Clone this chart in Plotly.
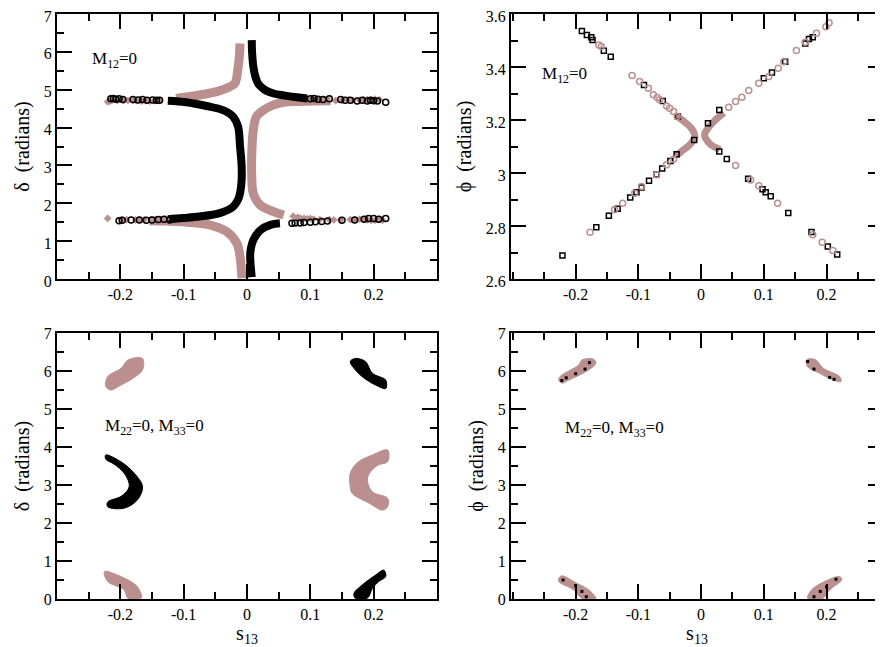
import plotly.graph_objects as go

PINK = "#bc8f8f"
FONT = "Liberation Serif, Times New Roman, serif"

# ---------------- Top-left: M12=0, delta vs s13 ----------------
tl_black_curve_s = [0.0075, 0.008, 0.010, 0.014, 0.018, 0.024, 0.031, 0.042, 0.058, 0.079, 0.095, None,
                    -0.125, -0.096, -0.064, -0.038, -0.022, -0.014, -0.011, -0.0085, -0.0085, -0.011, -0.014, -0.022, -0.043, -0.075, -0.101, -0.125, None,
                    0.0075, 0.005, 0.006, 0.010, 0.021, 0.037, 0.052]
tl_black_curve_d = [6.31, 6.0, 5.61, 5.3, 5.15, 5.05, 4.97, 4.90, 4.85, 4.80, 4.77, None,
                    4.71, 4.67, 4.57, 4.46, 4.29, 4.02, 3.50, 3.0, 2.6, 2.26, 2.1, 1.91, 1.74, 1.65, 1.61, 1.58, None,
                    0.05, 0.59, 0.8, 1.03, 1.29, 1.43, 1.47]
tl_black_pts_s = [-0.215, -0.211, -0.207, -0.202, -0.196, -0.180, -0.172, -0.165, -0.158, -0.149, -0.143, -0.138,
                  0.100, 0.106, 0.112, 0.120, 0.130, 0.148, 0.155, 0.163, 0.174, 0.182, 0.190, 0.195, 0.200, 0.206, 0.219,
                  -0.202, -0.197, -0.183, -0.170, -0.159, -0.150, -0.140, -0.131, -0.122, -0.115,
                  0.071, 0.076, 0.084, 0.090, 0.100, 0.108, 0.118, 0.127, 0.150, 0.170, 0.185, 0.192, 0.200, 0.208, 0.219]
tl_black_pts_d = [4.76, 4.77, 4.75, 4.76, 4.74, 4.74, 4.73, 4.74, 4.72, 4.73, 4.72, 4.72,
                  4.76, 4.77, 4.75, 4.74, 4.76, 4.74, 4.72, 4.72, 4.70, 4.72, 4.70, 4.72, 4.71, 4.70, 4.67,
                  1.54, 1.55, 1.56, 1.56, 1.55, 1.56, 1.57, 1.58, 1.56, 1.59,
                  1.47, 1.48, 1.48, 1.49, 1.50, 1.51, 1.52, 1.53, 1.55, 1.56, 1.58, 1.60, 1.60, 1.58, 1.60]
tl_pink_curve_s = [-0.011, -0.012, -0.014, -0.019, -0.027, -0.048, -0.075, -0.090, -0.112, None,
                   0.132, 0.105, 0.084, 0.063, 0.042, 0.026, 0.015, 0.010, 0.0075, 0.0075, 0.010, 0.021, 0.042, 0.058, None,
                   -0.154, -0.128, -0.101, -0.059, -0.032, -0.016, -0.011, -0.008]
tl_pink_curve_d = [6.22, 5.9, 5.61, 5.17, 5.08, 4.95, 4.86, 4.82, 4.77, None,
                   4.71, 4.70, 4.69, 4.68, 4.60, 4.46, 4.29, 3.94, 3.3, 2.7, 2.26, 1.95, 1.78, 1.69, None,
                   1.54, 1.53, 1.51, 1.43, 1.25, 0.94, 0.59, 0.02]
tl_pink_pts_s = [-0.220, -0.216, -0.213, -0.205, -0.195, -0.188, -0.180, -0.175, -0.166, -0.160, -0.154, -0.146, -0.138,
                 -0.220, -0.198, -0.190, -0.176, -0.170, -0.162, -0.150, -0.144, -0.136, -0.128,
                 0.073, 0.080, 0.084, 0.090, 0.095, 0.100, 0.105, 0.115, 0.130, 0.137, 0.148, 0.163, 0.170, 0.178, 0.184, 0.190, 0.196, 0.202, 0.208, 0.214,
                 0.140, 0.150, 0.160, 0.167, 0.178, 0.184, 0.190, 0.196, 0.202, 0.209]
tl_pink_pts_d = [4.68, 4.70, 4.72, 4.71, 4.71, 4.72, 4.72, 4.71, 4.70, 4.71, 4.70, 4.71, 4.71,
                 1.60, 1.57, 1.57, 1.56, 1.56, 1.57, 1.55, 1.56, 1.57, 1.58,
                 1.66, 1.63, 1.61, 1.60, 1.59, 1.60, 1.58, 1.57, 1.57, 1.56, 1.56, 1.57, 1.56, 1.58, 1.57, 1.56, 1.55, 1.55, 1.57, 1.55,
                 4.71, 4.72, 4.73, 4.72, 4.72, 4.74, 4.74, 4.73, 4.75, 4.74]

# ---------------- Top-right: M12=0, phi vs s13 ----------------
tr_black_s = [-0.221, -0.190, -0.182, -0.175, -0.173, -0.155, -0.144, -0.091, -0.061, -0.037, -0.011,
              -0.167, -0.147, -0.133, -0.113, -0.103, -0.095, -0.083, -0.071, -0.062, -0.049, -0.039,
              0.011, 0.029, 0.100, 0.113, 0.134, 0.166, 0.172, 0.178,
              0.029, 0.041, 0.075, 0.098, 0.103, 0.111, 0.139, 0.176, 0.202, 0.217]
tr_black_p = [2.689, 3.536, 3.521, 3.512, 3.502, 3.461, 3.439, 3.332, 3.272, 3.213, 3.125,
              2.795, 2.839, 2.865, 2.908, 2.927, 2.945, 2.971, 2.994, 3.017, 3.045, 3.071,
              3.188, 3.238, 3.358, 3.379, 3.420, 3.489, 3.506, 3.512,
              3.081, 3.053, 2.978, 2.939, 2.927, 2.912, 2.849, 2.777, 2.723, 2.692]
tr_pink_s = [-0.163, -0.159, -0.110, -0.098, -0.084, -0.076, -0.070, -0.066, -0.055, -0.050, -0.044, -0.038,
             -0.177, -0.138, -0.125, -0.106, -0.095, -0.071, -0.055, -0.044,
             0.204, 0.199, 0.184, 0.166, 0.152, 0.132, 0.123, 0.108, 0.092, 0.076, 0.065, 0.055, 0.044,
             0.055, 0.079, 0.092, 0.122, 0.178, 0.193, 0.210]
tr_pink_p = [3.483, 3.477, 3.368, 3.345, 3.320, 3.295, 3.285, 3.276, 3.253, 3.244, 3.232, 3.213,
             2.776, 2.861, 2.886, 2.924, 2.949, 2.993, 3.031, 3.052,
             3.567, 3.552, 3.527, 3.493, 3.462, 3.420, 3.395, 3.364, 3.339, 3.311, 3.286, 3.270, 3.248,
             3.028, 2.974, 2.952, 2.886, 2.767, 2.739, 2.708]
tr_pink_band_s = [-0.040, -0.033, -0.028, -0.024, -0.020, -0.016, -0.013, -0.011, -0.010, -0.010, -0.012, -0.015, -0.019, -0.023, -0.028, -0.033, -0.040, None,
                  0.036, 0.030, 0.025, 0.020, 0.016, 0.012, 0.009, 0.006, 0.006, 0.009, 0.012, 0.016, 0.020, 0.025, 0.030]
tr_pink_band_p = [3.218, 3.205, 3.196, 3.188, 3.180, 3.170, 3.160, 3.150, 3.142, 3.134, 3.125, 3.115, 3.105, 3.096, 3.088, 3.078, 3.064, None,
                  3.228, 3.215, 3.205, 3.193, 3.183, 3.172, 3.162, 3.150, 3.136, 3.125, 3.115, 3.106, 3.100, 3.094, 3.088]

# ---------------- Bottom-left: M22=0, M33=0, delta vs s13 (region outlines) ----------------
bl_pink_s = [-0.223, -0.220, -0.199, -0.188, -0.165, -0.165, -0.180, -0.199, -0.215, -0.223, None,
             -0.225, -0.199, -0.173, -0.167, -0.188, -0.194, -0.220, -0.225, None,
             0.222, 0.198, 0.175, 0.163, 0.163, 0.166, 0.193, 0.214, 0.222, 0.222, 0.198, 0.190, 0.195, 0.208, 0.222, 0.222]
bl_pink_d = [5.59, 5.85, 6.07, 6.29, 6.33, 6.03, 5.81, 5.63, 5.50, 5.59, None,
             0.72, 0.59, 0.32, 0.02, 0.02, 0.24, 0.46, 0.72, None,
             3.92, 3.79, 3.60, 3.31, 2.96, 2.78, 2.52, 2.34, 2.43, 2.65, 2.82, 3.13, 3.35, 3.53, 3.61, 3.92]
bl_black_s = [0.163, 0.171, 0.187, 0.198, 0.219, 0.219, 0.203, 0.182, 0.169, 0.163, None,
              -0.223, -0.199, -0.178, -0.165, -0.173, -0.194, -0.220, -0.220, -0.198, -0.186, -0.193, -0.210, -0.223, -0.223, None,
              0.171, 0.169, 0.182, 0.203, 0.216, 0.219, 0.208, 0.198, 0.190, 0.171]
bl_black_d = [6.25, 6.33, 6.25, 5.94, 5.76, 5.54, 5.63, 5.85, 6.07, 6.25, None,
              3.79, 3.61, 3.31, 2.96, 2.61, 2.39, 2.43, 2.55, 2.71, 2.96, 3.29, 3.55, 3.68, 3.79, None,
              0.02, 0.15, 0.37, 0.63, 0.76, 0.59, 0.46, 0.28, 0.02, 0.02]

# ---------------- Bottom-right: M22=0, M33=0, phi vs s13 ----------------
br_pink_s = [-0.227, -0.225, -0.195, -0.190, -0.171, -0.168, -0.184, -0.211, -0.222, -0.227, None,
             -0.227, -0.222, -0.198, -0.179, -0.168, -0.190, -0.203, -0.227, -0.227, None,
             0.168, 0.181, 0.195, 0.221, 0.223, 0.208, 0.189, 0.170, 0.168, None,
             0.170, 0.176, 0.197, 0.221, 0.224, 0.211, 0.200, 0.195, 0.170]
br_pink_p = [5.76, 5.85, 6.16, 6.29, 6.31, 6.20, 5.98, 5.76, 5.68, 5.76, None,
             0.54, 0.61, 0.41, 0.24, 0.02, 0.02, 0.24, 0.46, 0.54, None,
             6.29, 6.31, 6.07, 5.85, 5.72, 5.78, 5.94, 6.11, 6.29, None,
             0.02, 0.24, 0.46, 0.59, 0.50, 0.32, 0.15, 0.02, 0.02]
br_black_s = [-0.222, -0.215, -0.200, -0.185, -0.178, 0.170, 0.180, 0.205, 0.212,
              -0.220, -0.200, -0.190, -0.183, 0.180, 0.190, 0.200, 0.215]
br_black_p = [5.75, 5.82, 5.93, 6.05, 6.22, 6.25, 6.05, 5.83, 5.78,
              0.50, 0.35, 0.20, 0.06, 0.06, 0.20, 0.32, 0.52]

x_ticks = [-0.2, -0.1, 0, 0.1, 0.2]
x_ticktext = ["-0.2", "-0.1", "0", "0.1", "0.2"]

fig = go.Figure()

# top-left
fig.add_trace(go.Scatter(x=tl_pink_curve_s, y=tl_pink_curve_d, mode="lines", line=dict(color=PINK, width=9, shape="spline"),
                         xaxis="x", yaxis="y", showlegend=False))
fig.add_trace(go.Scatter(x=tl_black_curve_s, y=tl_black_curve_d, mode="lines", line=dict(color="black", width=8, shape="spline"),
                         xaxis="x", yaxis="y", showlegend=False))
fig.add_trace(go.Scatter(x=tl_pink_pts_s, y=tl_pink_pts_d, mode="markers", marker=dict(symbol="diamond", size=6, color=PINK),
                         xaxis="x", yaxis="y", showlegend=False))
fig.add_trace(go.Scatter(x=tl_black_pts_s, y=tl_black_pts_d, mode="markers",
                         marker=dict(symbol="circle-open", size=6, color="black", line=dict(width=1.5)),
                         xaxis="x", yaxis="y", showlegend=False))
# top-right
fig.add_trace(go.Scatter(x=tr_pink_band_s, y=tr_pink_band_p, mode="lines", line=dict(color=PINK, width=7, shape="spline"),
                         xaxis="x2", yaxis="y2", showlegend=False))
fig.add_trace(go.Scatter(x=tr_black_s, y=tr_black_p, mode="markers",
                         marker=dict(symbol="square-open", size=5, color="black", line=dict(width=1.5)),
                         xaxis="x2", yaxis="y2", showlegend=False))
fig.add_trace(go.Scatter(x=tr_pink_s, y=tr_pink_p, mode="markers",
                         marker=dict(symbol="circle-open", size=6, color=PINK, line=dict(width=1.5)),
                         xaxis="x2", yaxis="y2", showlegend=False))
# bottom-left
fig.add_trace(go.Scatter(x=bl_pink_s, y=bl_pink_d, mode="lines", fill="toself", fillcolor=PINK,
                         line=dict(color=PINK, width=1, shape="spline"), xaxis="x3", yaxis="y3", showlegend=False))
fig.add_trace(go.Scatter(x=bl_black_s, y=bl_black_d, mode="lines", fill="toself", fillcolor="black",
                         line=dict(color="black", width=1, shape="spline"), xaxis="x3", yaxis="y3", showlegend=False))
# bottom-right
fig.add_trace(go.Scatter(x=br_pink_s, y=br_pink_p, mode="lines", fill="toself", fillcolor=PINK,
                         line=dict(color=PINK, width=1, shape="spline"), xaxis="x4", yaxis="y4", showlegend=False))
fig.add_trace(go.Scatter(x=br_black_s, y=br_black_p, mode="markers",
                         marker=dict(symbol="square", size=3, color="black"),
                         xaxis="x4", yaxis="y4", showlegend=False))


def xax(domain, rng, anchor, title=None):
    d = dict(domain=domain, range=rng, anchor=anchor, automargin=False, showline=True, linecolor="black", linewidth=2,
             mirror="ticks", ticks="inside", ticklen=15, tickwidth=2, tickcolor="black", showgrid=False, zeroline=False,
             tickmode="array", tickvals=x_ticks, ticktext=x_ticktext, ticklabeloverflow="allow",
             tickfont=dict(family=FONT, size=16, color="black"),
             minor=dict(ticks="inside", ticklen=7, tickwidth=2, tickcolor="black", tickmode="linear", tick0=0, dtick=0.05))
    if title:
        d["title"] = dict(text=title, font=dict(family=FONT, size=20, color="black"), standoff=2)
    return d


def yax(domain, rng, anchor, dtick, title, shift=0):
    return dict(domain=domain, range=rng, anchor=anchor, automargin=False, showline=True, linecolor="black", linewidth=2,
                mirror="ticks", ticks="inside", ticklen=15, tickwidth=2, tickcolor="black", showgrid=False, zeroline=False,
                tickmode="linear", tick0=0, dtick=dtick, ticklabeloverflow="allow", ticklabelshift=shift,
                tickfont=dict(family=FONT, size=16, color="black"),
                minor=dict(ticks="inside", ticklen=7, tickwidth=2, tickcolor="black", tickmode="linear", tick0=0, dtick=dtick / 2),
                title=dict(text=title, font=dict(family=FONT, size=20, color="black"), standoff=9))


# page body has an 8 px margin, so the figure is laid out 8 px smaller and shifted
OFF = 8
W, H = 883 - OFF, 647 - OFF


def px_x(p):
    return (p - OFF) / W


def px_y(p):
    return 1 - (p - OFF) / H


lx = [px_x(57), px_x(437)]
rx = [px_x(511), 1.0]
ty = [px_y(279), px_y(14)]
by = [px_y(599), px_y(333)]

fig.update_layout(
    width=W, height=H, margin=dict(l=0, r=0, t=0, b=0, autoexpand=False),
    paper_bgcolor="white", plot_bgcolor="white",
    font=dict(family=FONT, color="black", size=16),
    xaxis=xax(lx, [-0.3, 0.3], "y"),
    yaxis=yax(ty, [0, 7], "x", 1, "δ  (radians)", shift=2),
    xaxis2=xax(rx, [-0.303, 0.29], "y2"),
    yaxis2=yax(ty, [2.6, 3.6], "x2", 0.2, "ϕ  (radians)", shift=2),
    xaxis3=xax(lx, [-0.3, 0.3], "y3", "s<sub>13</sub>"),
    yaxis3=yax(by, [0, 7], "x3", 1, "δ  (radians)"),
    xaxis4=xax(rx, [-0.303, 0.29], "y4", "s<sub>13</sub>"),
    yaxis4=yax(by, [0, 7], "x4", 1, "ϕ  (radians)"),
    annotations=[
        dict(text="M<sub>12</sub>=0", x=px_x(90), y=px_y(60), xref="paper", yref="paper", xanchor="left", yanchor="middle",
             showarrow=False, font=dict(family=FONT, size=17, color="black")),
        dict(text="M<sub>12</sub>=0", x=px_x(540), y=px_y(75), xref="paper", yref="paper", xanchor="left", yanchor="middle",
             showarrow=False, font=dict(family=FONT, size=17, color="black")),
        dict(text="M<sub>22</sub>=0, M<sub>33</sub>=0", x=px_x(103), y=px_y(427), xref="paper", yref="paper", xanchor="left",
             yanchor="middle", showarrow=False, font=dict(family=FONT, size=17, color="black")),
        dict(text="M<sub>22</sub>=0, M<sub>33</sub>=0", x=px_x(563), y=px_y(429), xref="paper", yref="paper", xanchor="left",
             yanchor="middle", showarrow=False, font=dict(family=FONT, size=17, color="black")),
    ],
)

fig.write_html("out.html")
